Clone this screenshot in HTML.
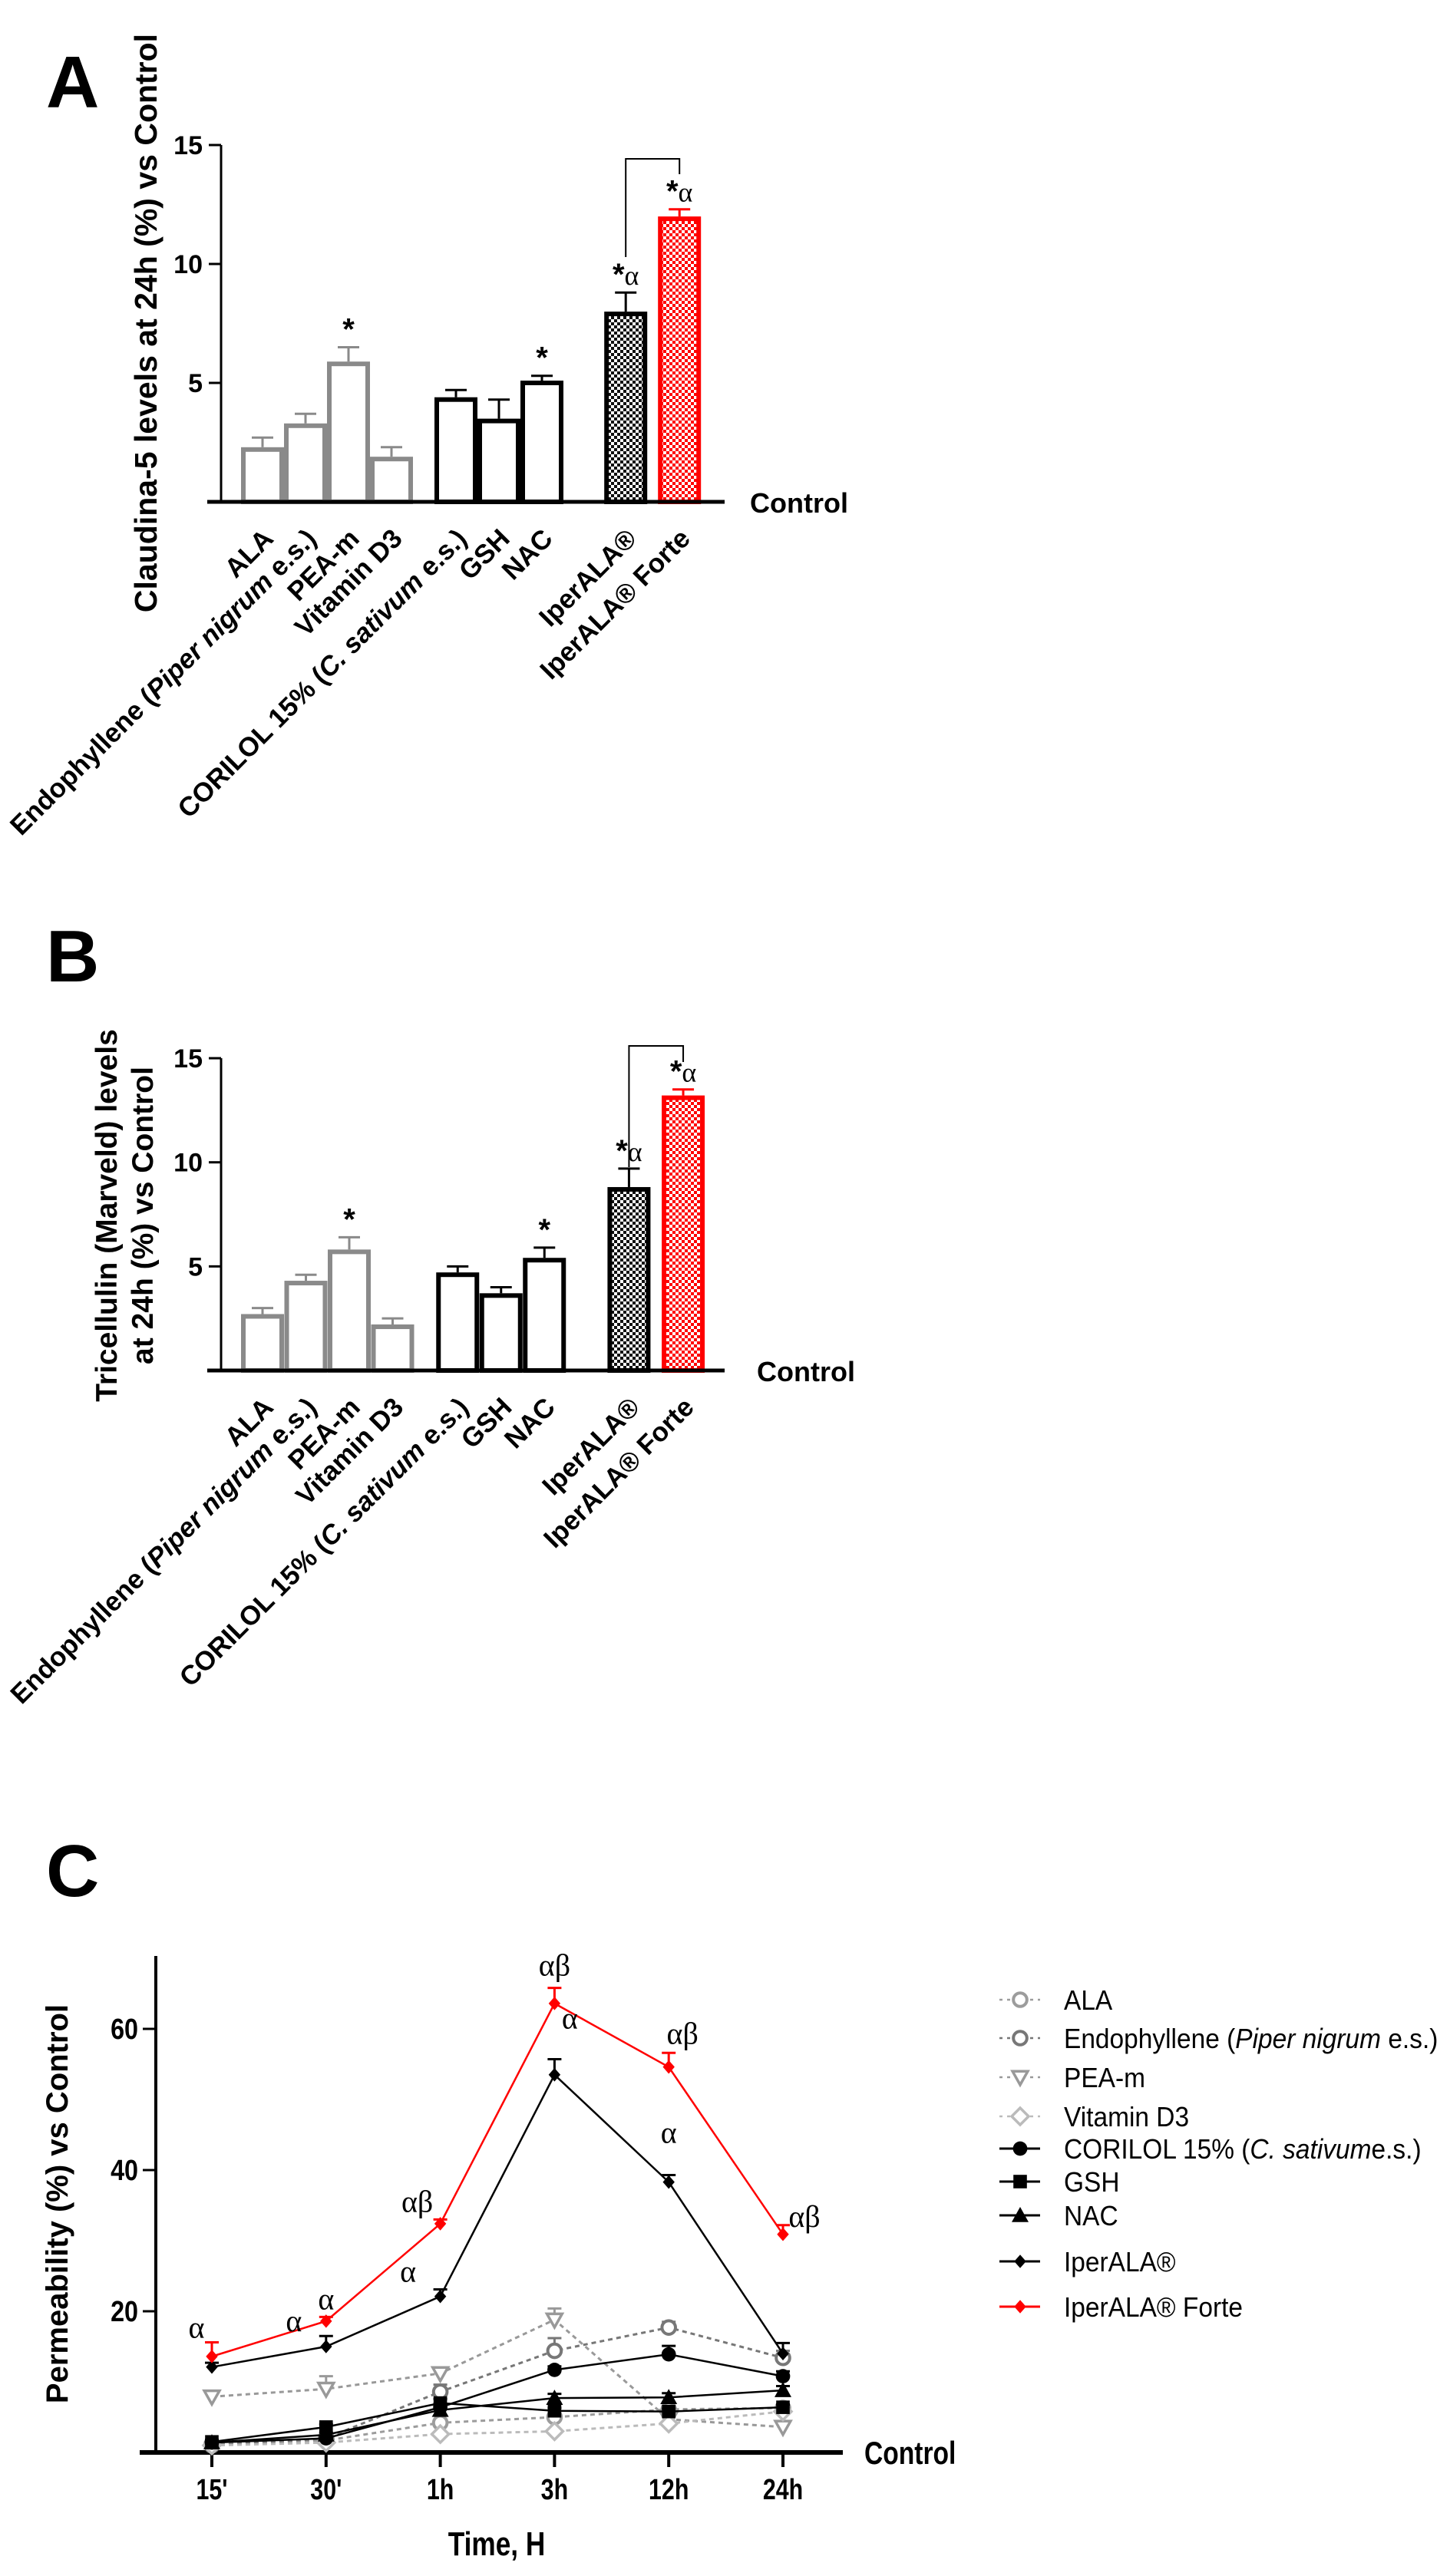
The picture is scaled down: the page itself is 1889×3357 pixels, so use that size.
<!DOCTYPE html>
<html><head><meta charset="utf-8">
<style>
html,body{margin:0;padding:0;background:#fff;}
svg{display:block;}
text{font-family:"Liberation Sans",Arial,sans-serif;}
.b{font-weight:bold;}
.serif{font-family:"Liberation Serif","DejaVu Serif",serif;}
</style></head>
<body>
<svg id="fig" width="1889" height="3357" viewBox="0 0 1889 3357" xmlns="http://www.w3.org/2000/svg">
<defs>
<pattern id="chkBlack" width="8" height="8" patternUnits="userSpaceOnUse">
<rect width="8" height="8" fill="#fff"/><rect width="4" height="4" fill="#111"/><rect x="4" y="4" width="4" height="4" fill="#111"/>
</pattern>
<pattern id="chkRed" width="8" height="8" patternUnits="userSpaceOnUse">
<rect width="8" height="8" fill="#fff"/><rect width="4" height="4" fill="#f00"/><rect x="4" y="4" width="4" height="4" fill="#f00"/>
</pattern>
</defs>
<text class="b" x="60" y="140" font-size="96">A</text>
<text class="b" x="60" y="1279" font-size="96">B</text>
<text class="b" x="60" y="2471" font-size="96">C</text>
<g id="chartA"></g>
<g id="chartB"></g>
<g id="chartC"></g>
</svg>
<script>
// ---------- data: bar charts ----------
const barCategories = ["ALA","Endophyllene (|Piper nigrum| e.s.)","PEA-m","Vitamin D3","CORILOL 15% (|C. sativum| e.s.)","GSH","NAC","IperALA®","IperALA® Forte"];
const claudinaValues = [2.2,3.2,5.8,1.8,4.3,3.4,5.0,7.9,11.9];
const claudinaErrors = [0.5,0.5,0.7,0.5,0.4,0.9,0.3,0.9,0.4];
const claudinaStats = ["","","*","","","","*","*α","*α"];
const tricellulinValues = [2.6,4.2,5.7,2.1,4.6,3.6,5.3,8.7,13.1];
const tricellulinErrors = [0.4,0.4,0.7,0.4,0.4,0.4,0.6,1.0,0.4];
const tricellulinStats = ["","","*","","","","*","*α","*α"];
const barYTicks = [5,10,15];

// ---------- data: line chart ----------
const timeLabels = ["15'","30'","1h","3h","12h","24h"];
const permYTicks = [20,40,60];
const alaValues = [1.2,1.7,4.2,5.0,6.1,6.3];
const alaErrors = [0.3,0.3,0.4,0.5,0.5,0.5];
const endoValues = [1.0,2.0,8.6,14.4,17.7,13.4];
const endoErrors = [0.4,0.4,1.0,1.8,0.8,1.0];
const peaValues = [7.9,9.0,11.2,18.8,4.7,3.6];
const peaErrors = [0.5,1.8,0.8,1.6,0.5,0.4];
const vitdValues = [1.0,1.4,2.6,3.0,4.1,5.8];
const vitdErrors = [0.3,0.3,0.3,0.3,0.3,0.3];
const corilolValues = [1.4,2.0,6.4,11.7,13.9,10.8];
const corilolErrors = [0.3,0.3,0.5,0.5,1.2,0.7];
const gshValues = [1.5,3.6,7.0,5.9,5.8,6.4];
const gshErrors = [0.3,0.4,0.6,0.4,0.4,0.4];
const nacValues = [1.4,2.5,6.0,7.7,7.8,8.8];
const nacErrors = [0.3,0.3,0.5,0.6,0.6,0.6];
const iperValues = [12.1,15.0,22.1,53.5,38.3,14.0];
const iperErrors = [0.6,1.5,1.0,2.2,1.0,1.5];
const forteValues = [13.6,18.6,32.4,63.6,54.6,30.9];
const forteErrors = [2.0,0.6,0.6,2.2,2.0,1.3];
const iperStats = ["","α","α","α","α",""];
const forteStats = ["α","α","αβ","αβ","αβ","αβ"];
const legendLabels = ["ALA","Endophyllene (|Piper nigrum| e.s.)","PEA-m","Vitamin D3","CORILOL 15% (|C. sativum|e.s.)","GSH","NAC","IperALA®","IperALA® Forte"];

const NS="http://www.w3.org/2000/svg";
function mk(parent,tag,attrs){const e=document.createElementNS(NS,tag);for(const k in attrs)e.setAttribute(k,attrs[k]);parent.appendChild(e);return e;}
function richText(t,label){
  const parts=label.split("|");
  parts.forEach((p,i)=>{const s=mk(t,"tspan",{});if(i%2===1)s.setAttribute("font-style","italic");s.textContent=p;});
}

function barChart(gid,cfg,values,errors,stats){
  const g=document.getElementById(gid);
  const y=v=>cfg.y0-v*cfg.ppu;
  const slots=[0,1,2,3,4.5,5.5,6.5,8.45,9.7];
  const xc=i=>cfg.x0+slots[i]*cfg.step;
  const bw=50;
  let ax=mk(g,"line",{x1:288,y1:y(15),x2:288,y2:cfg.y0,stroke:"#000","stroke-width":3});
  
  barYTicks.forEach(t=>{
    let tk=mk(g,"line",{x1:272,y1:y(t),x2:288,y2:y(t),stroke:"#000","stroke-width":3});
    
    let tl=mk(g,"text",{x:264,y:y(t)+12,"text-anchor":"end","font-size":34,class:"b"});
    tl.textContent=t;
    
  });
  values.forEach((v,i)=>{
    const cx=xc(i);
    const grey=i<4;
    const col=grey?"#8a8a8a":(i===8?"#f00":"#000");
    const fill=i===7?"url(#chkBlack)":(i===8?"url(#chkRed)":"#fff");
    let r=mk(g,"rect",{x:cx-bw/2,y:y(v),width:bw,height:cfg.y0-y(v),fill:fill,stroke:col,"stroke-width":6});
    
    const et=y(v+errors[i]);
    let e1=mk(g,"line",{x1:cx,y1:y(v)-3,x2:cx,y2:et,stroke:col,"stroke-width":3});
    
    let e2=mk(g,"line",{x1:cx-14,y1:et,x2:cx+14,y2:et,stroke:col,"stroke-width":3});
    
    if(stats[i]){
      let st=mk(g,"text",{x:cx,y:et-10,"text-anchor":"middle","font-size":36});
      
      const a=mk(st,"tspan",{"font-weight":"bold","font-size":40});a.textContent="*";
      if(stats[i].length>1){const b=mk(st,"tspan",{class:"serif","font-size":36});b.textContent="α";}
    }
    let lt=mk(g,"text",{x:cx+16,y:cfg.y0+50,"text-anchor":"end","font-size":35,class:"b",transform:`rotate(-45 ${cx+16} ${cfg.y0+50})`});
    richText(lt,barCategories[i]);
    
  });
  let bl=mk(g,"line",{x1:270,y1:cfg.y0,x2:944,y2:cfg.y0,stroke:"#000","stroke-width":5});
  
  let ct=mk(g,"text",{x:cfg.ctrlX,y:cfg.y0+14,"font-size":36,class:"b"});ct.textContent="Control";
  
  const xl=xc(7),xr=xc(8);
  let br=mk(g,"polyline",{points:`${xl},${cfg.brL} ${xl},${cfg.brTop} ${xr},${cfg.brTop} ${xr},${cfg.brR}`,fill:"none",stroke:"#000","stroke-width":2});
  
  cfg.titles.forEach((tt)=>{
    let yt=mk(g,"text",{x:tt[0],y:cfg.ty,"text-anchor":"middle","font-size":cfg.tfs,class:"b",transform:`rotate(-90 ${tt[0]} ${cfg.ty})`});
    yt.textContent=tt[1];
    
  });
}

barChart("chartA",{y0:654,ppu:31,x0:342,step:56,ctrlX:977,brTop:207,brL:335,brR:227,ty:421,tfs:41,
  titles:[[204,"Claudina-5 levels at 24h (%) vs Control"]]},claudinaValues,claudinaErrors,claudinaStats);
barChart("chartB",{y0:1786,ppu:27.13,x0:342,step:56.5,ctrlX:986,brTop:1363,brL:1521,brR:1384,ty:1584,tfs:39,
  titles:[[152,"Tricellulin (Marveld) levels"],[199,"at 24h (%) vs Control"]]},tricellulinValues,tricellulinErrors,tricellulinStats);

// ---------- line chart ----------
(function(){
  const g=document.getElementById("chartC");
  const y0=3196, ppu=9.2;
  const y=v=>y0-v*ppu;
  const x=i=>276+i*148.8;
  let ax=mk(g,"line",{x1:203,y1:2549,x2:203,y2:y0,stroke:"#000","stroke-width":4});
  
  permYTicks.forEach(t=>{
    let tk=mk(g,"line",{x1:186,y1:y(t),x2:203,y2:y(t),stroke:"#000","stroke-width":3});
    
    let tl=mk(g,"text",{x:0,y:0,"text-anchor":"end","font-size":38,class:"b",transform:`translate(180 ${y(t)+13}) scale(0.85 1)`});
    tl.textContent=t;
    
  });
  let bl=mk(g,"line",{x1:182,y1:y0,x2:1098,y2:y0,stroke:"#000","stroke-width":6});
  
  timeLabels.forEach((t,i)=>{
    let tk=mk(g,"line",{x1:x(i),y1:y0,x2:x(i),y2:y0+19,stroke:"#000","stroke-width":4});
    
    let tl=mk(g,"text",{x:0,y:0,"text-anchor":"middle","font-size":38,class:"b",transform:`translate(${x(i)} 3257) scale(0.8 1)`});
    tl.textContent=t;
    
  });
  let xt=mk(g,"text",{x:0,y:0,"text-anchor":"middle","font-size":44,class:"b",transform:"translate(647 3330) scale(0.8 1)"});
  xt.textContent="Time, H";
  let ct=mk(g,"text",{x:0,y:0,"font-size":42,class:"b",transform:"translate(1126 3211) scale(0.8 1)"});
  ct.textContent="Control";
  let yt=mk(g,"text",{x:88,y:2872,"text-anchor":"middle","font-size":40,class:"b",transform:"rotate(-90 88 2872)"});
  yt.textContent="Permeability (%) vs Control";

  const series=[
    {name:"ala",v:alaValues,e:alaErrors,col:"#9c9c9c",dash:"6,5",m:"ocircle"},
    {name:"endophyllene",v:endoValues,e:endoErrors,col:"#777",dash:"6,5",m:"ocircle"},
    {name:"pea-m",v:peaValues,e:peaErrors,col:"#999",dash:"6,5",m:"otri"},
    {name:"vitamin-d3",v:vitdValues,e:vitdErrors,col:"#bbb",dash:"6,5",m:"odiamond"},
    {name:"corilol",v:corilolValues,e:corilolErrors,col:"#000",dash:"",m:"circle"},
    {name:"gsh",v:gshValues,e:gshErrors,col:"#000",dash:"",m:"square"},
    {name:"nac",v:nacValues,e:nacErrors,col:"#000",dash:"",m:"tri"},
    {name:"iperala",v:iperValues,e:iperErrors,col:"#000",dash:"",m:"diamond"},
    {name:"iperala-forte",v:forteValues,e:forteErrors,col:"#f00",dash:"",m:"diamond"}
  ];
  function marker(par,m,cx,cy,col,s){
    let el;
    if(m==="ocircle"){el=mk(par,"circle",{cx:cx,cy:cy,r:s*0.8,fill:"#fff",stroke:col,"stroke-width":4});}
    else if(m==="circle"){el=mk(par,"circle",{cx:cx,cy:cy,r:s*0.85,fill:col});}
    else if(m==="square"){el=mk(par,"rect",{x:cx-s*0.8,y:cy-s*0.8,width:s*1.6,height:s*1.6,fill:col});}
    else if(m==="tri"){el=mk(par,"polygon",{points:`${cx},${cy-s} ${cx-s},${cy+s*0.8} ${cx+s},${cy+s*0.8}`,fill:col});}
    else if(m==="otri"){el=mk(par,"polygon",{points:`${cx-s*0.9},${cy-s*0.7} ${cx+s*0.9},${cy-s*0.7} ${cx},${cy+s*0.9}`,fill:"#fff",stroke:col,"stroke-width":3.5});}
    else if(m==="odiamond"){el=mk(par,"polygon",{points:`${cx},${cy-s} ${cx+s},${cy} ${cx},${cy+s} ${cx-s},${cy}`,fill:"#fff",stroke:col,"stroke-width":3.5});}
    else {el=mk(par,"polygon",{points:`${cx},${cy-s*0.8} ${cx+s*0.7},${cy} ${cx},${cy+s*0.8} ${cx-s*0.7},${cy}`,fill:col});}
    return el;
  }
  series.forEach(s=>{
    const sg=mk(g,"g",{});
    
    const pts=s.v.map((v,i)=>`${x(i)},${y(v)}`).join(" ");
    let ln=mk(sg,"polyline",{points:pts,fill:"none",stroke:s.col,"stroke-width":s.dash?3:2.5,"stroke-dasharray":s.dash||"none"});
    
    s.v.forEach((v,i)=>{
      const et=y(v+s.e[i]);
      let eb=mk(sg,"polyline",{points:`${x(i)},${y(v)} ${x(i)},${et}`,stroke:s.col,"stroke-width":3,fill:"none"});
      
      let ec=mk(sg,"line",{x1:x(i)-9,y1:et,x2:x(i)+9,y2:et,stroke:s.col,"stroke-width":3});
      
      let mm=marker(sg,s.m,x(i),y(v),s.col,11);
      
    });
  });
  const iperOff=[[0,0],[-42,-6],[-42,-10],[20,-40],[0,-42],[0,0]];
  const forteOff=[[-20,-34],[0,-38],[-30,-38],[0,-44],[18,-40],[28,-26]];
  iperValues.forEach((v,i)=>{
    if(!iperStats[i])return;
    let t=mk(g,"text",{x:x(i)+iperOff[i][0],y:y(v+iperErrors[i])+iperOff[i][1],"text-anchor":"middle","font-size":40,class:"serif"});
    t.textContent=iperStats[i];
  });
  forteValues.forEach((v,i)=>{
    if(!forteStats[i])return;
    let t=mk(g,"text",{x:x(i)+forteOff[i][0],y:y(v+forteErrors[i])+forteOff[i][1]+28,"text-anchor":"middle","font-size":40,class:"serif"});
    t.textContent=forteStats[i];
  });
  const legY=[2606,2656,2707,2758,2800,2843,2887,2947,3006];
  const lg=mk(g,"g",{});
  
  series.forEach((s,k)=>{
    const ly=legY[k];
    const eg=mk(lg,"g",{});
    
    mk(eg,"line",{x1:1302,y1:ly,x2:1355,y2:ly,stroke:s.col,"stroke-width":s.dash?2.5:3,"stroke-dasharray":s.dash?"4,6":"none"});
    marker(eg,s.m,1329,ly,s.col,11);
    let t=mk(eg,"text",{x:0,y:0,"font-size":36,transform:`translate(1386 ${ly+13}) scale(0.93 1)`});
    richText(t,legendLabels[k]);
  });
})();
</script>
</body></html>
